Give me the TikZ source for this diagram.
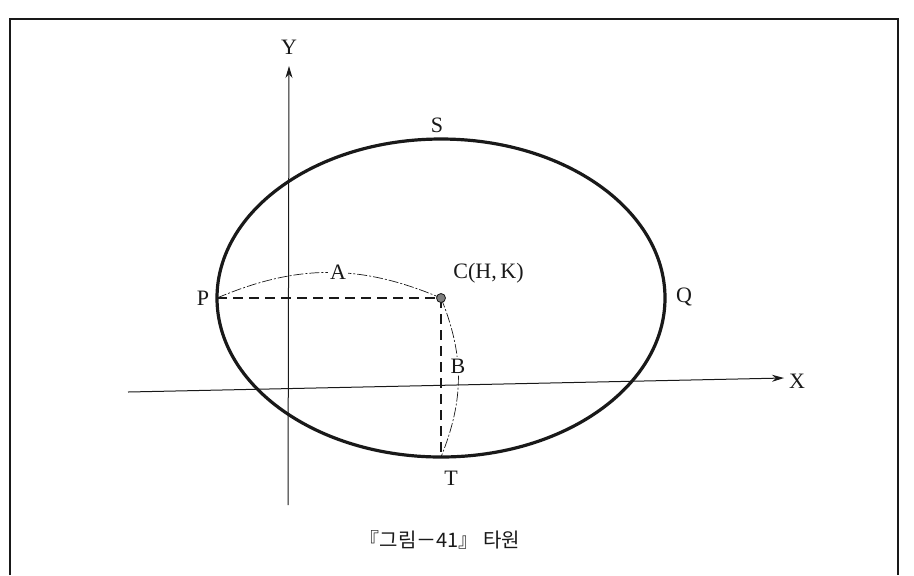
\documentclass[tikz,border=0pt]{standalone}
\usepackage{fontspec}
\setmainfont{Liberation Serif}
\newfontfamily\kofont{Noto Sans CJK KR}
\usetikzlibrary{arrows.meta, positioning, calc}
\definecolor{inkblack}{RGB}{25,25,25}
\definecolor{pointgray}{RGB}{125,125,125}
\tikzset{
  frameline/.style={line width=1pt, draw=inkblack},
  curve/.style={line width=1.6pt, draw=inkblack},
  axisline/.style={-{Stealth[length=6pt, width=3.5pt]}, line width=0.5pt, draw=inkblack},
  guide/.style={dash pattern=on 5pt off 3pt, line width=0.6pt, draw=inkblack},
  radiusarc/.style={dash pattern=on 5pt off 1pt on 1pt off 1pt, line width=0.35pt, draw=inkblack},
  ptlabel/.style={font=\fontsize{11}{13}\selectfont, text=inkblack, inner sep=1pt},
  centre/.style={circle, draw=inkblack, fill=pointgray, minimum size=4.5pt, inner sep=0pt},
  caption/.style={font=\kofont\fontsize{10}{12}\selectfont, text=inkblack}
}
\begin{document}
\begin{tikzpicture}[x=0.5pt, y=-0.5pt]
  \useasboundingbox (0,0) rectangle (914,575);

  % ── Frame ─────────────────────────────────────────────────────────
  \draw[frameline] (10,575) -- (10,19) -- (898,19) -- (898,575);

  % ── Axes ──────────────────────────────────────────────────────────
  \coordinate (xstart) at (128,392);
  \coordinate (xend)   at (784,378);
  \coordinate (ystart) at (288,505);
  \coordinate (yend)   at (289,66);
  \draw[axisline] (xstart) -- (xend);
  \draw[axisline] (ystart) -- (yend);
  \node[ptlabel] (xlab) at (797,381) {X};
  \node[ptlabel] (ylab) at (289,47)  {Y};

  % ── Ellipse ───────────────────────────────────────────────────────
  \coordinate (ctr) at (441,298);
  \draw[curve] (ctr) ellipse [x radius=224, y radius=159];
  \coordinate (ptP) at (217,298);
  \coordinate (ptT) at (441,457);

  % ── Radii ─────────────────────────────────────────────────────────
  \draw[guide] (ptP) -- (ctr);
  \draw[guide] (ctr) -- (ptT);
  \draw[radiusarc] (ptP) to[bend left=23] (ctr);
  \draw[radiusarc] (ctr) to[bend left=22] (ptT);
  \node[ptlabel, fill=white] (alab) at (338,272) {A};
  \node[ptlabel, fill=white] (blab) at (458,366) {B};
  \node[centre] (cpt) at (ctr) {};

  % ── Point labels ──────────────────────────────────────────────────
  \node[ptlabel] (slab) at (437,125) {S};
  \node[ptlabel] (plab) at (203,298) {P};
  \node[ptlabel] (qlab) at (684,297) {Q};
  \node[ptlabel] (tlab) at (451,478) {T};
  \node[ptlabel, anchor=west] (clab) at (451,273) {C(H,\,K)};

  % ── Caption ───────────────────────────────────────────────────────
  \node[caption] (cap) at (440,540) {『그림－41』 타원};
\end{tikzpicture}
\end{document}
